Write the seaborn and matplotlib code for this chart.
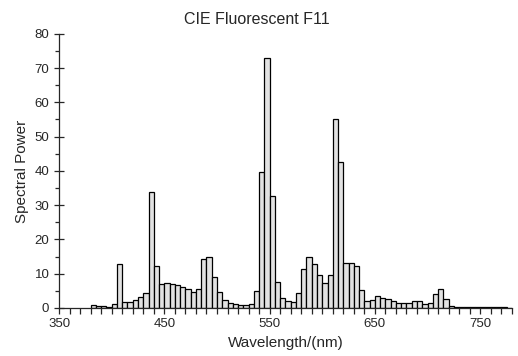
import matplotlib
matplotlib.use("Agg")
import matplotlib.pyplot as plt
import pandas as pd
import seaborn as sns
from matplotlib.ticker import MultipleLocator

# CIE F11 relative spectral power, 5 nm steps from 380 to 780 nm
wavelength = list(range(380, 785, 5))
power = [
    0.91, 0.63, 0.46, 0.37, 1.29, 12.68, 1.59, 1.79, 2.46, 3.33,
    4.49, 33.94, 12.13, 6.95, 7.19, 7.12, 6.72, 6.13, 5.46, 4.79,
    5.66, 14.29, 14.96, 8.97, 4.72, 2.33, 1.47, 1.10, 0.89, 0.83,
    1.18, 4.90, 39.59, 72.84, 32.61, 7.52, 2.83, 1.96, 1.67, 4.43,
    11.28, 14.76, 12.73, 9.74, 7.33, 9.72, 55.27, 42.58, 13.18, 13.16,
    12.26, 5.11, 2.07, 2.34, 3.58, 3.01, 2.48, 2.14, 1.54, 1.33,
    1.46, 1.94, 2.00, 1.20, 1.35, 4.10, 5.58, 2.51, 0.57, 0.27,
    0.23, 0.21, 0.24, 0.24, 0.20, 0.24, 0.32, 0.26, 0.16, 0.12,
    0.09,
]
x_ticks = [350, 450, 550, 650, 750]
y_ticks = [0, 10, 20, 30, 40, 50, 60, 70, 80]

df = pd.DataFrame({"wavelength": wavelength, "power": power})

sns.set_style("ticks")
plt.rcParams["font.family"] = ["Liberation Sans", "DejaVu Sans"]

fig = plt.figure(figsize=(5.18, 3.56), dpi=100)
ax = fig.add_axes([0.114, 0.135, 0.874, 0.77])

sns.histplot(
    data=df, x="wavelength", weights="power",
    binwidth=5, binrange=(380, 785), ax=ax,
    color="#e2e2e2", alpha=1, edgecolor="black", linewidth=0.9,
)

ax.set_xlim(350, 780)
ax.set_ylim(0, 80)
ax.set_xticks(x_ticks)
ax.set_yticks(y_ticks)
ax.xaxis.set_minor_locator(MultipleLocator(10))
ax.yaxis.set_minor_locator(MultipleLocator(5))
ax.tick_params(axis="x", which="both", direction="out", length=4, width=0.9, labelsize=9.5)
ax.tick_params(axis="y", which="major", direction="inout", length=7, width=0.9, labelsize=9.5)
ax.tick_params(axis="y", which="minor", direction="out", length=3, width=0.9)
sns.despine(ax=ax)
for s in ("left", "bottom"):
    ax.spines[s].set_linewidth(0.9)

ax.set_xlabel("Wavelength/(nm)", fontsize=11)
ax.set_ylabel("Spectral Power", fontsize=11)
fig.text(0.495, 0.944, "CIE Fluorescent F11", ha="center", va="center", fontsize=11.5)

fig.savefig("out.png", dpi=100)
